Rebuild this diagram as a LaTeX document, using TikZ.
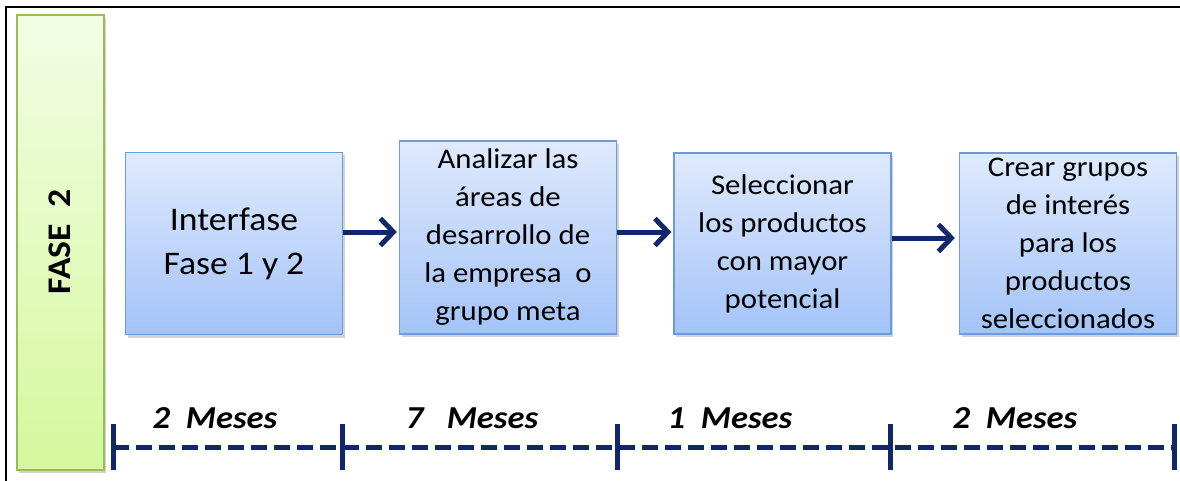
\documentclass[tikz,border=0pt]{standalone}
\usepackage{fontspec}
\setmainfont{Carlito}[FakeStretch=1.08]
\usetikzlibrary{arrows.meta,shadows}
\definecolor{boxtop}{HTML}{DFEAFD}
\definecolor{boxbot}{HTML}{A3C3F8}
\definecolor{boxline}{HTML}{6C9BD9}
\definecolor{greentop}{HTML}{F2FDE4}
\definecolor{greenbot}{HTML}{D5F89D}
\definecolor{greenline}{HTML}{9BBB59}
\definecolor{navy}{HTML}{10286A}
\tikzset{
  stepbox/.style={draw=boxline, line width=1.3pt, top color=boxtop, bottom color=boxbot,
    minimum width=217pt, align=center, inner sep=0pt,
    drop shadow={shadow xshift=2pt, shadow yshift=-3pt, opacity=0.35},
    font=\fontsize{28.5}{38}\selectfont},
  flow/.style={draw=navy, line width=5pt, -{Straight Barb[length=13pt,width=27pt,line width=5pt]}},
  tline/.style={draw=navy, line width=5pt, dash pattern=on 16pt off 7pt},
  tick/.style={draw=navy, line width=5pt},
  mes/.style={font=\fontsize{32}{38}\selectfont\bfseries\itshape, anchor=base},
}
\begin{document}
\begin{tikzpicture}[x=1pt,y=-1pt]
\useasboundingbox (0,0) rectangle (1180,481);
% frame
\draw[line width=2pt] (6,481) -- (6,7) -- (1180,7);
% green bar
\node[draw=greenline, line width=1.5pt, top color=greentop, bottom color=greenbot,
  minimum width=87pt, minimum height=455pt, inner sep=0pt,
  drop shadow={shadow xshift=2pt, shadow yshift=-3pt, opacity=0.35}] (bar) at (60.5,242.5) {};
\node[rotate=90, font=\fontsize{33}{38}\selectfont\bfseries] (fase) at (60,242) {FASE\ \ 2};
% boxes
\node[stepbox, minimum height=182pt, font=\fontsize{33}{44}\selectfont] (b1) at (234,243.5) {Interfase\\Fase 1 y 2};
\node[stepbox, minimum height=193pt] (b2) at (508,237.5) {Analizar las\\áreas de\\desarrollo de\\la empresa\ \ o\\grupo meta};
\node[stepbox, minimum height=181pt] (b3) at (782.5,243.5) {Seleccionar\\los productos\\con mayor\\potencial};
\node[stepbox, minimum height=181pt] (b4) at (1068,243.5) {Crear grupos\\de interés\\para los\\productos\\seleccionados};
% arrows
\draw[flow] ([yshift=11.5pt]b1.east) -- ([xshift=-2pt,yshift=5.5pt]b2.west);
\draw[flow] ([yshift=5.5pt]b2.east) -- ([xshift=-2pt,yshift=11.5pt]b3.west);
\draw[flow] ([yshift=5.5pt]b3.east) -- ([xshift=-4pt,yshift=5.5pt]b4.west);
% timeline
\coordinate (t0) at (113,447);
\coordinate (t1) at (342,447);
\coordinate (t2) at (617,447);
\coordinate (t3) at (890,447);
\coordinate (t4) at (1174,447);
\draw[tline] (t0) -- (t4);
\foreach \t in {t0,t1,t2,t3,t4}{\draw[tick] ([yshift=23pt]\t) -- ([yshift=-23pt]\t);}
\node[mes] (m1) at (215,428) {2\ \ Meses};
\node[mes] (m2) at (472,428) {7\ \ \ Meses};
\node[mes] (m3) at (730,428) {1\ \ Meses};
\node[mes] (m4) at (1015,428) {2\ \ Meses};
\end{tikzpicture}
\end{document}
